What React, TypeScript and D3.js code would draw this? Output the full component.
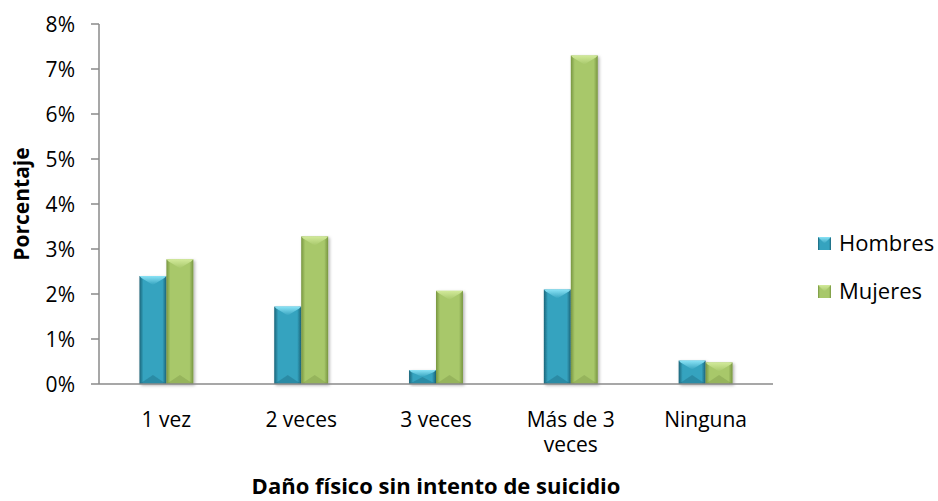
import React from "react";
import * as d3 from "d3";

const categories = ["1 vez", "2 veces", "3 veces", "Más de 3 veces", "Ninguna"];
const categoryLines = [["1 vez"], ["2 veces"], ["3 veces"], ["Más de 3", "veces"], ["Ninguna"]];
const seriesNames = ["Hombres", "Mujeres"];
const hombres = [2.4, 1.72, 0.31, 2.1, 0.52];
const mujeres = [2.77, 3.28, 2.07, 7.3, 0.48];
const yTicks = [0, 1, 2, 3, 4, 5, 6, 7, 8];
const yTitle = "Porcentaje";
const xTitle = "Daño físico sin intento de suicidio";

const W = 938;
const H = 501;
const FONT = "'Open Sans', 'Noto Sans', sans-serif";

const palette = [
  { edge: "#1b6479", mid: "#35a3bf", top: "#8ae3f6", bottom: "#16566a" },
  { edge: "#789640", mid: "#a8c86b", top: "#d2ea9a", bottom: "#6c8838" },
];

export default function App() {
  const x0 = d3.scaleBand<string>().domain(categories).range([99, 773]).padding(0);
  const barW = x0.bandwidth() / 5;
  const x1 = d3.scaleBand<string>().domain(seriesNames).range([0, barW * 2]).padding(0);
  const y = d3.scaleLinear().domain([0, 8]).range([384, 24]);
  const data = [hombres, mujeres];

  return (
    <svg width={W} height={H} style={{ position: "absolute", left: 0, top: 0, background: "#fff" }} fontFamily={FONT}>
      <defs>
        {palette.map((p, i) => (
          <linearGradient key={i} id={`g${i}`} x1="0" x2="1" y1="0" y2="0">
            <stop offset="0" stopColor={p.edge} />
            <stop offset="0.15" stopColor={p.mid} />
            <stop offset="0.85" stopColor={p.mid} />
            <stop offset="1" stopColor={p.edge} />
          </linearGradient>
        ))}
        {palette.map((p, i) => (
          <linearGradient key={"t" + i} id={`t${i}`} x1="0" x2="0" y1="0" y2="1">
            <stop offset="0" stopColor={p.top} />
            <stop offset="1" stopColor={p.mid} />
          </linearGradient>
        ))}
        <filter id="sh" x="-30%" y="-10%" width="160%" height="130%">
          <feDropShadow dx="1.5" dy="1.5" stdDeviation="1.5" floodColor="#000" floodOpacity="0.3" />
        </filter>
      </defs>

      {/* y axis */}
      <line x1={99} x2={99} y1={y(8)} y2={y(0)} stroke="#8a8a8a" strokeWidth={1.5} />
      {yTicks.map((t) => (
        <g key={t}>
          <line x1={91} x2={99} y1={y(t)} y2={y(t)} stroke="#8a8a8a" strokeWidth={1.5} />
          <text x={75} y={y(t)} dy="0.36em" textAnchor="end" fontSize={21} fill="#000">
            {t}%
          </text>
        </g>
      ))}

      {/* bars */}
      {categories.map((c, ci) => (
        <g key={c}>
          {seriesNames.map((s, si) => {
            const v = data[si][ci];
            const bx = (x0(c) as number) + x0.bandwidth() / 2 - barW + (x1(s) as number);
            const by = y(v);
            const bh = y(0) - y(v);
            const bev = Math.min(9, bh / 2);
            return (
              <g key={s} filter="url(#sh)">
                <rect x={bx} y={by} width={barW} height={bh} fill={`url(#g${si})`} />
                <polygon
                  points={`${bx},${by} ${bx + barW},${by} ${bx + barW - 2},${by + 2} ${bx + barW / 2},${by + bev} ${bx + 2},${by + 2}`}
                  fill={`url(#t${si})`}
                />
                <polygon
                  points={`${bx},${by + bh} ${bx + barW},${by + bh} ${bx + barW / 2},${by + bh - bev}`}
                  fill={palette[si].bottom}
                  opacity={0.3}
                />
              </g>
            );
          })}
        </g>
      ))}

      {/* x axis */}
      <line x1={99} x2={773} y1={y(0)} y2={y(0)} stroke="#8a8a8a" strokeWidth={1.5} />
      {categories.map((c, ci) => (
        <text key={c} x={(x0(c) as number) + x0.bandwidth() / 2} y={427} textAnchor="middle" fontSize={21} fill="#000">
          {categoryLines[ci].map((l, li) => (
            <tspan key={li} x={(x0(c) as number) + x0.bandwidth() / 2} dy={li === 0 ? 0 : 25}>
              {l}
            </tspan>
          ))}
        </text>
      ))}

      {/* titles */}
      <text x={436} y={494} textAnchor="middle" fontSize={22} fontWeight="bold" fill="#000">
        {xTitle}
      </text>
      <text transform={`translate(29,204) rotate(-90)`} textAnchor="middle" fontSize={21} fontWeight="bold" fill="#000">
        {yTitle}
      </text>

      {/* legend */}
      {seriesNames.map((s, si) => {
        const ly = 243.5 + si * 48;
        return (
          <g key={s}>
            <rect x={818} y={ly - 6.5} width={13} height={13} fill={`url(#g${si})`} />
            <polygon points={`${818},${ly - 6.5} ${831},${ly - 6.5} ${824.5},${ly}`} fill={`url(#t${si})`} />
            <text x={839} y={ly} dy="0.36em" fontSize={22} fill="#000">
              {s}
            </text>
          </g>
        );
      })}
    </svg>
  );
}
